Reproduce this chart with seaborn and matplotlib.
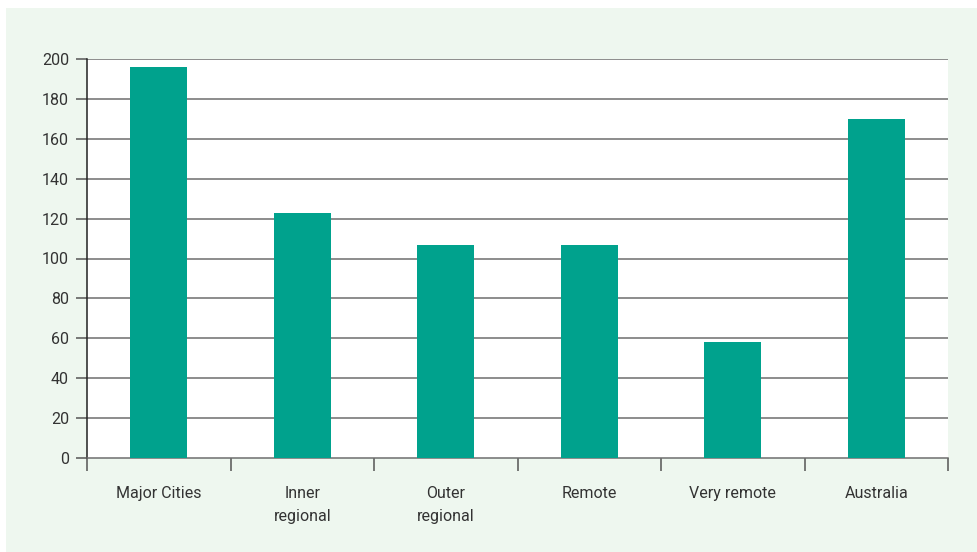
import matplotlib
matplotlib.use("Agg")
import matplotlib.pyplot as plt
from matplotlib.patches import Rectangle
import seaborn as sns
import pandas as pd

regions = ["Major Cities", "Inner\nregional", "Outer\nregional", "Remote", "Very remote", "Australia"]
rates = [196, 123, 107, 107, 58, 170]
yticks = [0, 20, 40, 60, 80, 100, 120, 140, 160, 180, 200]

df = pd.DataFrame({"region": regions, "rate": rates})

sns.set_style("white")
plt.rcParams["font.family"] = ["Roboto", "DejaVu Sans"]

fig = plt.figure(figsize=(9.78, 5.52), dpi=100, facecolor="white")
# light green panel behind the chart
fig.patches.append(Rectangle((6 / 978, 0), 1, 1 - 8 / 552, transform=fig.transFigure,
                             facecolor="#eef7ef", edgecolor="none", zorder=-5))
ax = fig.add_axes([87 / 978, 1 - 458 / 552, (948 - 87) / 978, (458 - 59) / 552])
ax.set_zorder(2)
ax.set_facecolor("white")

sns.barplot(data=df, x="region", y="rate", color="#00a28d", width=0.4,
            saturation=1, linewidth=0, edgecolor="none", ax=ax, zorder=3)

ax.set_ylim(0, 200)
ax.set_xlim(-0.5, len(regions) - 0.5)
ax.set_yticks(yticks)
ax.set_xlabel("")
ax.set_ylabel("")

for y in yticks[1:]:
    ax.axhline(y, color="#6e6e6e", lw=1.1, zorder=1)

ax.set_xticks(range(len(regions)))
ax.set_xticklabels(regions, linespacing=1.65)
ax.set_xticks([i - 0.5 for i in range(len(regions) + 1)], minor=True)
ax.tick_params(axis="x", which="major", bottom=True, length=0, pad=20, labelsize=11.5,
               colors="#333333")
ax.tick_params(axis="x", which="minor", bottom=True, length=9, width=1.1, color="#555555",
               direction="out")
ax.tick_params(axis="y", length=8, width=1.1, pad=5, labelsize=11.5, colors="#333333",
               color="#555555", direction="out", left=True)

for side in ["top", "right"]:
    ax.spines[side].set_visible(False)
ax.spines["left"].set_color("#222222")
ax.spines["left"].set_linewidth(1.1)
ax.spines["bottom"].set_color("#6e6e6e")
ax.spines["bottom"].set_linewidth(1.1)

fig.savefig("out.png", dpi=100, facecolor=fig.get_facecolor())
